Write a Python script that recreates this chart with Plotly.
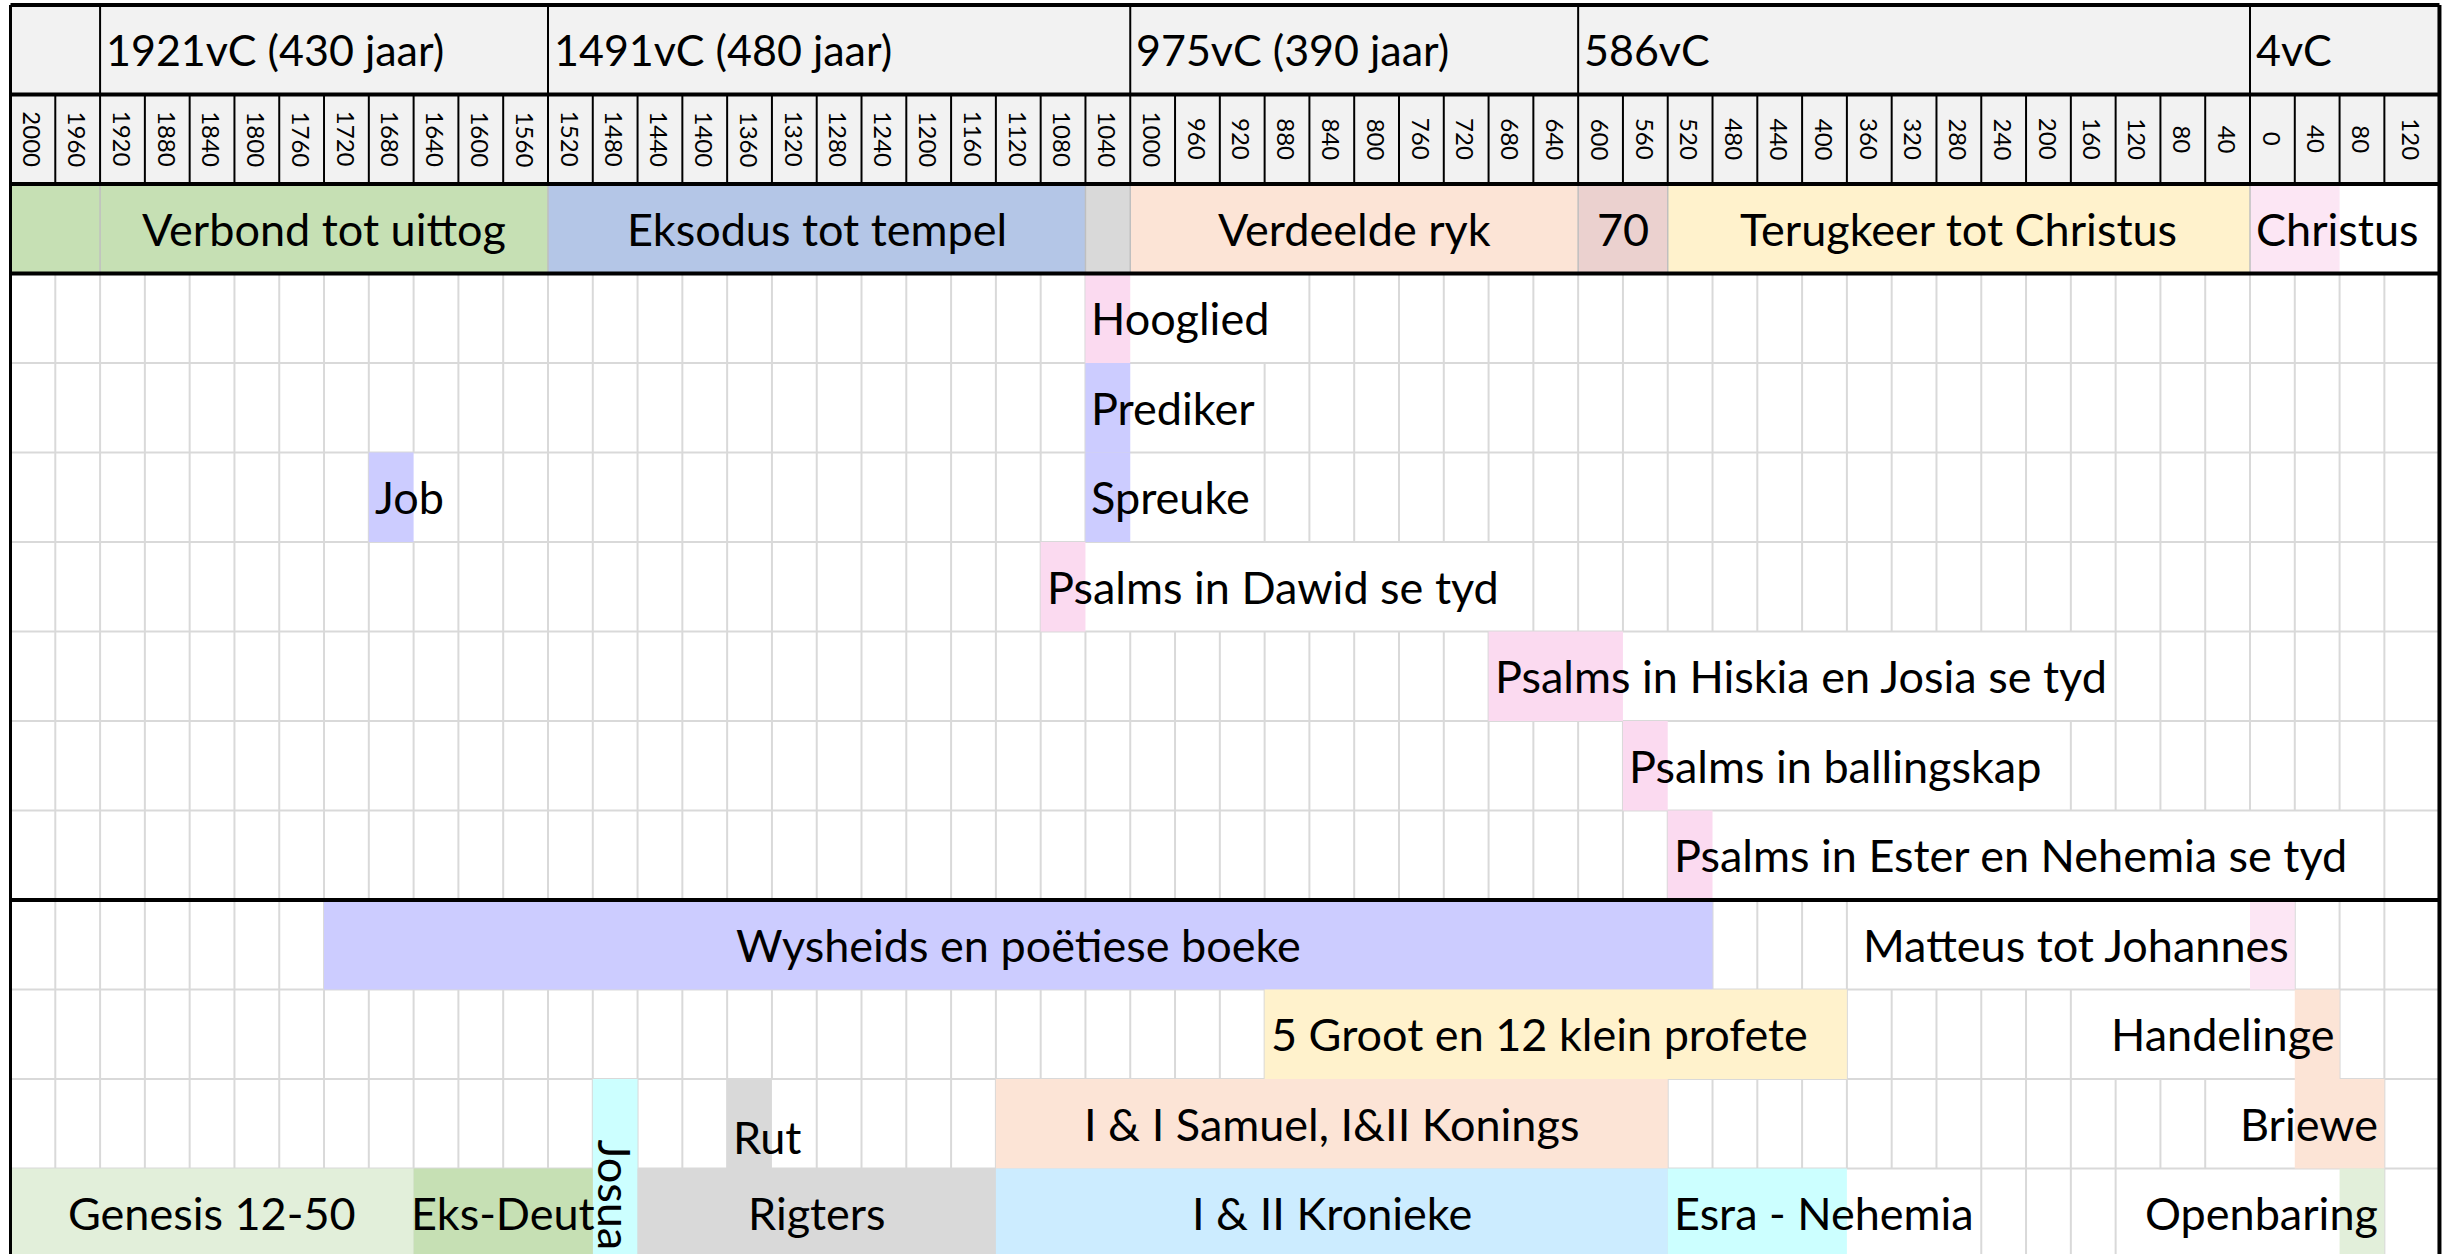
import plotly.graph_objects as go

# ---------------- data ----------------
year_labels = ["2000", "1960", "1920", "1880", "1840", "1800", "1760", "1720", "1680", "1640", "1600", "1560",
               "1520", "1480", "1440", "1400", "1360", "1320", "1280", "1240", "1200", "1160", "1120", "1080", "1040",
               "1000", "960", "920", "880", "840", "800", "760", "720", "680", "640",
               "600", "560", "520", "480", "440", "400", "360", "320", "280", "240", "200", "160", "120", "80", "40",
               "0", "40", "80", "120"]

era_labels = ["", "1921vC (430 jaar)", "1491vC (480 jaar)", "975vC (390 jaar)", "586vC", "4vC"]
era_first = [0, 2, 12, 25, 35, 50]
era_last = [1, 11, 24, 34, 49, 53]

period_labels = ["", "Verbond tot uittog", "Eksodus tot tempel", "", "Verdeelde ryk", "70",
                 "Terugkeer tot Christus", "Christus"]
period_first = [0, 2, 12, 24, 25, 35, 37, 50]
period_last = [1, 11, 23, 24, 34, 36, 49, 51]
period_colors = ["#C6E0B4", "#C6E0B4", "#B4C6E7", "#D9D9D9", "#FCE4D6", "#EBD1CF", "#FFF2CC", "#FCE6F4"]
period_align = ["center", "center", "center", "center", "center", "center", "center", "left"]

book_labels = ["Hooglied", "Prediker", "Spreuke", "Job", "Psalms in Dawid se tyd",
               "Psalms in Hiskia en Josia se tyd", "Psalms in ballingskap", "Psalms in Ester en Nehemia se tyd",
               "Wysheids en poëtiese boeke", "Matteus tot Johannes", "5 Groot en 12 klein profete", "Handelinge",
               "I & I Samuel, I&II Konings", "Rut", "Briewe", "Josua", "Genesis 12-50", "Eks-Deut", "Rigters",
               "I & II Kronieke", "Esra - Nehemia", "Openbaring"]
book_row = [3, 4, 5, 5, 6, 7, 8, 9, 10, 10, 11, 11, 12, 12, 12, 12, 13, 13, 13, 13, 13, 13]
book_row_last = [3, 4, 5, 5, 6, 7, 8, 9, 10, 10, 11, 11, 12, 12, 12, 13, 13, 13, 13, 13, 13, 13]
book_first = [24, 24, 24, 8, 23, 33, 36, 37, 7, 50, 28, 51, 22, 16, 51, 13, 0, 9, 14, 22, 37, 52]
book_last = [24, 24, 24, 8, 23, 35, 36, 37, 37, 50, 40, 51, 36, 16, 52, 13, 8, 12, 21, 36, 40, 52]
# columns covered by the (overflowing) text, which hides the grid lines
book_text_first = [24, 24, 24, 8, 23, 33, 36, 37, 7, 41, 28, 46, 22, 16, 49, 13, 0, 9, 14, 22, 37, 47]
book_text_last = [28, 27, 27, 9, 33, 46, 45, 52, 37, 50, 40, 51, 36, 17, 52, 13, 8, 12, 21, 36, 43, 52]
book_colors = ["#FBDAF0", "#CCCCFF", "#CCCCFF", "#CCCCFF", "#FBDAF0", "#FBDAF0", "#FBDAF0", "#FBDAF0",
               "#CCCCFF", "#FCE6F4", "#FFF2CC", "#FCE4D6", "#FCE4D6", "#D9D9D9", "#FCE4D6", "#CCFFFF",
               "#E2EFDA", "#C6E0B4", "#D9D9D9", "#CCECFF", "#CCFFFF", "#E2EFDA"]
book_align = ["left", "left", "left", "left", "left", "left", "left", "left",
              "center", "right", "left", "right", "center", "left", "right", "center",
              "center", "center", "center", "center", "left", "right"]
book_valign = ["middle"] * 13 + ["bottom", "middle", "bottom"] + ["middle"] * 6
book_angle = [0] * 15 + [90] + [0] * 6

# ---------------- style / geometry ----------------
N_COLS = len(year_labels)
col_width = [1.0] * (N_COLS - 1) + [1.23]
edges = [0.0]
for w in col_width:
    edges.append(edges[-1] + w)

FONT = "Lato"
FS = 45
EFS = 43
YFS = 24
GRID = "#D9D9D9"
HEADER_BG = "#F2F2F2"
body_rows = list(range(3, 14))

px_col = 44.79
px_row = 89.5
X_RANGE = [-10.5 / px_col, (2450 - 10.5) / px_col]
Y_BOTTOM = (1254 - 5) / px_row
Y_RANGE = [Y_BOTTOM, -5 / px_row]

fig = go.Figure()

# grid lines (hidden under overflowing text like a spreadsheet)
hidden = {r: set() for r in body_rows}
for i in range(len(book_labels)):
    for r in range(book_row[i], book_row_last[i] + 1):
        for b in range(book_text_first[i] + 1, book_text_last[i] + 1):
            hidden[r].add(b)
gx, gy = [], []
for r in body_rows:
    for b in range(1, N_COLS):
        if b not in hidden[r]:
            gx += [edges[b], edges[b], None]
            gy += [r, r + 1, None]
for yb in [4, 5, 6, 7, 8, 9, 11, 12, 13]:
    gx += [edges[0], edges[-1], None]
    gy += [yb, yb, None]
fig.add_trace(go.Scatter(x=gx, y=gy, mode="lines", line=dict(color=GRID, width=2),
                         hoverinfo="skip", showlegend=False))

shapes = []
# header backgrounds
for r in (0, 1):
    shapes.append(dict(type="rect", xref="x", yref="y", x0=edges[0], x1=edges[-1], y0=r, y1=r + 1,
                       fillcolor=HEADER_BG, line=dict(width=0), layer="above"))
# period fills
for i in range(len(period_labels)):
    shapes.append(dict(type="rect", xref="x", yref="y", x0=edges[period_first[i]], x1=edges[period_last[i] + 1],
                       y0=2, y1=3, fillcolor=period_colors[i], line=dict(width=0), layer="above"))
# book fills
for i in range(len(book_labels)):
    shapes.append(dict(type="rect", xref="x", yref="y", x0=edges[book_first[i]], x1=edges[book_last[i] + 1],
                       y0=book_row[i], y1=book_row_last[i] + 1, fillcolor=book_colors[i],
                       line=dict(width=0), layer="above"))
# faint borders between period blocks
for i in range(1, len(period_labels)):
    shapes.append(dict(type="line", xref="x", yref="y", x0=edges[period_first[i]], x1=edges[period_first[i]],
                       y0=2, y1=3, line=dict(color="#BFBFBF", width=1.5), layer="above"))
# black lines in header rows
for b in range(1, N_COLS):
    shapes.append(dict(type="line", xref="x", yref="y", x0=edges[b], x1=edges[b], y0=1, y1=2,
                       line=dict(color="black", width=2), layer="above"))
for f in era_first[1:]:
    shapes.append(dict(type="line", xref="x", yref="y", x0=edges[f], x1=edges[f], y0=0, y1=1,
                       line=dict(color="black", width=2), layer="above"))
for yb in [0, 1, 2, 3, 10]:
    shapes.append(dict(type="line", xref="x", yref="y", x0=edges[0], x1=edges[-1], y0=yb, y1=yb,
                       line=dict(color="black", width=4), layer="above"))
shapes.append(dict(type="line", xref="x", yref="y", x0=edges[0], x1=edges[0], y0=0, y1=14,
                   line=dict(color="black", width=3), layer="above"))
shapes.append(dict(type="line", xref="x", yref="y", x0=edges[-1], x1=edges[-1], y0=0, y1=14,
                   line=dict(color="black", width=4), layer="above"))

annotations = []
font = dict(family=FONT, size=FS, color="black")
# era labels
for i, lab in enumerate(era_labels):
    if lab:
        annotations.append(dict(x=edges[era_first[i]], y=0.5, xref="x", yref="y", text=lab, showarrow=False,
                                xanchor="left", yanchor="middle", xshift=4,
                                font=dict(family=FONT, size=EFS, color="black")))
# year labels
for c, lab in enumerate(year_labels):
    annotations.append(dict(x=(edges[c] + edges[c + 1]) / 2, y=1.5, xref="x", yref="y", text=lab,
                            showarrow=False, textangle=90, xanchor="center", yanchor="middle",
                            font=dict(family=FONT, size=YFS, color="black")))


def cell_text(lab, c0, c1, r0, r1, align, valign="middle", angle=0):
    if align == "left":
        x, xa, xs = edges[c0], "left", 4
    elif align == "right":
        x, xa, xs = edges[c1 + 1], "right", -4
    else:
        x, xa, xs = (edges[c0] + edges[c1 + 1]) / 2, "center", 0
    if valign == "bottom":
        y, ya = min(r1 + 1 - 0.03, Y_BOTTOM - 0.02), "bottom"
    else:
        y, ya = (r0 + r1 + 1) / 2, "middle"
    return dict(x=x, y=y, xref="x", yref="y", text=lab, showarrow=False, xanchor=xa, yanchor=ya,
                xshift=xs, textangle=angle, font=font)


for i, lab in enumerate(period_labels):
    if lab:
        annotations.append(cell_text(lab, period_first[i], period_last[i], 2, 2, period_align[i]))
for i, lab in enumerate(book_labels):
    annotations.append(cell_text(lab, book_first[i], book_last[i], book_row[i], book_row_last[i],
                                 book_align[i], book_valign[i], book_angle[i]))

fig.update_layout(
    width=2450, height=1254,
    margin=dict(l=0, r=0, t=0, b=0),
    paper_bgcolor="white", plot_bgcolor="white",
    shapes=shapes, annotations=annotations,
    xaxis=dict(visible=False, range=X_RANGE, fixedrange=True),
    yaxis=dict(visible=False, range=Y_RANGE, fixedrange=True),
    showlegend=False,
)
fig.write_html("out.html", config={"displayModeBar": False},
               post_script="document.body.style.margin='0';document.body.style.overflow='hidden';")
